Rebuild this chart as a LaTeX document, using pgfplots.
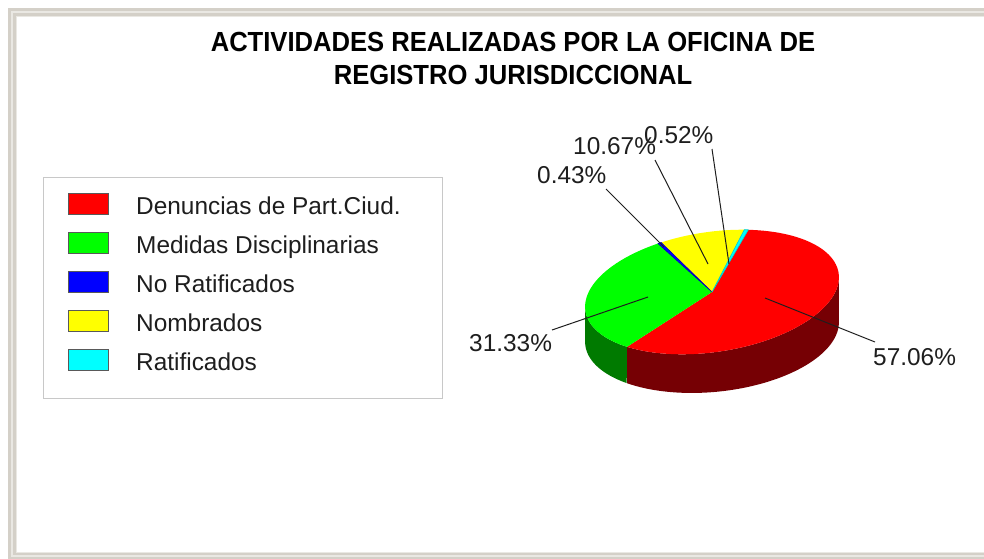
\documentclass[border=0pt]{standalone}
\usepackage{pgfplots}
\pgfplotsset{compat=1.18}
\usepackage{pgfplotstable}
\usepackage{fontspec}
\setmainfont{Liberation Sans}
\definecolor{framegray}{RGB}{212,208,200}
\definecolor{framelight}{RGB}{234,232,227}
\definecolor{sidegreen}{RGB}{0,122,0}
\definecolor{sidered}{RGB}{118,0,4}
\definecolor{txt}{RGB}{30,30,30}
\definecolor{legbox}{RGB}{200,200,200}
\definecolor{pRed}{RGB}{255,0,0}
\definecolor{pGreen}{RGB}{0,255,0}
\definecolor{pBlue}{RGB}{0,0,255}
\definecolor{pYellow}{RGB}{255,255,0}
\definecolor{pCyan}{RGB}{0,255,255}
\newcommand\lbl{\fontsize{24.4bp}{28bp}\selectfont}
\newcommand\ttl{\fontsize{25.6bp}{30bp}\selectfont\bfseries}
\begin{document}
\begin{tikzpicture}
\pgfplotstableread{
name value
Denuncias 57.06
Medidas 31.33
NoRatificados 0.43
Nombrados 10.67
Ratificados 0.52
}\piedata
\pgfplotstablegetelem{0}{value}\of\piedata \global\let\vA\pgfplotsretval
\pgfplotstablegetelem{1}{value}\of\piedata \global\let\vB\pgfplotsretval
\pgfplotstablegetelem{2}{value}\of\piedata \global\let\vC\pgfplotsretval
\pgfplotstablegetelem{3}{value}\of\piedata \global\let\vD\pgfplotsretval
\pgfplotstablegetelem{4}{value}\of\piedata \global\let\vE\pgfplotsretval
\pgfmathsetmacro\aS{69.4}\global\let\aS\aS
\pgfmathsetmacro\aR{\aS-3.6*\vA}\global\let\aR\aR
\pgfmathsetmacro\aG{\aR-3.6*\vB}\global\let\aG\aG
\pgfmathsetmacro\aB{\aG-3.6*\vC}\global\let\aB\aB
\pgfmathsetmacro\aY{\aB-3.6*\vD}\global\let\aY\aY
\pgfmathsetmacro\aC{\aY-3.6*\vE}\global\let\aC\aC
\begin{axis}[
  width=984bp, height=559bp, scale only axis,
  xmin=0, xmax=984, ymin=0, ymax=559, y dir=reverse,
  hide axis, clip=false,
  declare function={
    PX(\t)=712+128*cos(\t)*cos(8.5)-60*sin(\t)*sin(8.5);
    PY(\t)=292-(128*cos(\t)*sin(8.5)+60*sin(\t)*cos(8.5));
    W(\u,\p,\q)=ifthenelse(\u<=1,\p+\u*(\q-\p),\q-(\u-1)*(\q-\p));
    DD(\t)=40+5*cos(\t);
  },
]
% background and frame
\fill[white] (axis cs:0,0) rectangle (axis cs:984,559);
\fill[framegray] (axis cs:8,8) rectangle (axis cs:984,559);
\fill[framelight] (axis cs:11,11) rectangle (axis cs:984,557);
\fill[framegray] (axis cs:13,13) rectangle (axis cs:984,555);
\fill[framelight] (axis cs:16,16) rectangle (axis cs:984,553);
\fill[white] (axis cs:17,17) rectangle (axis cs:984,552);

% title
\node[anchor=base, font=\ttl, inner sep=0pt, yscale=1.08] at (axis cs:513,52) {ACTIVIDADES REALIZADAS POR LA OFICINA DE};
\node[anchor=base, font=\ttl, inner sep=0pt, yscale=1.08] at (axis cs:513,85) {REGISTRO JURISDICCIONAL};

% side walls
\addplot[fill=sidegreen, draw=none, domain=0:2, samples=401, variable=\s]
  ({PX(W(\s,-184,\aR))}, {PY(W(\s,-184,\aR))+DD(W(\s,-184,\aR))*(\s>1)});
\addplot[fill=sidered, draw=none, domain=0:2, samples=401, variable=\s]
  ({PX(W(\s,\aR,-4))}, {PY(W(\s,\aR,-4))+DD(W(\s,\aR,-4))*(\s>1)});

% top face slices
\addplot[fill=pRed, draw=none, domain=\aR:\aS, samples=150, variable=\t]
  ({PX(\t)},{PY(\t)}) -- (axis cs:712,292) -- cycle;
\addplot[fill=pGreen, draw=none, domain=\aG:\aR, samples=100, variable=\t]
  ({PX(\t)},{PY(\t)}) -- (axis cs:712,292) -- cycle;
\addplot[fill=pYellow, draw=none, domain=\aY:\aB, samples=40, variable=\t]
  ({PX(\t)},{PY(\t)}) -- (axis cs:712,292) -- cycle;
\addplot[fill=pBlue, draw=pBlue!70!black, line width=0.6bp, domain=\aB:\aG, samples=5, variable=\t]
  ({PX(\t)},{PY(\t)}) -- (axis cs:712,292) -- cycle;
\addplot[fill=pCyan, draw=pCyan!80!black, line width=0.6bp, domain=\aC:\aY, samples=5, variable=\t]
  ({PX(\t)},{PY(\t)}) -- (axis cs:712,292) -- cycle;

% leader lines
\addplot[draw=txt, line width=1bp] coordinates {(765,298) (875,342)};
\addplot[draw=txt, line width=1bp] coordinates {(648,297) (552,330)};
\addplot[draw=txt, line width=1bp] coordinates {(606,189) (664,247)};
\addplot[draw=txt, line width=1bp] coordinates {(655,160) (708,264)};
\addplot[draw=txt, line width=1bp] coordinates {(712,149) (729,264)};

% labels
\node[anchor=base west, inner sep=0pt, text=txt, font=\lbl] at (axis cs:873,365) {\vA\%};
\node[anchor=base west, inner sep=0pt, text=txt, font=\lbl] at (axis cs:469,351) {\vB\%};
\node[anchor=base west, inner sep=0pt, text=txt, font=\lbl] at (axis cs:537,183) {\vC\%};
\node[anchor=base west, inner sep=0pt, text=txt, font=\lbl] at (axis cs:573,154) {\vD\%};
\node[anchor=base west, inner sep=0pt, text=txt, font=\lbl] at (axis cs:644,143) {\vE\%};

% legend
\draw[draw=legbox, line width=1bp] (axis cs:43.5,177.5) rectangle (axis cs:442.5,398.5);
\draw[fill=pRed, draw=black!65, line width=0.8bp] (axis cs:68.5,193.5) rectangle (axis cs:108.5,214.5);
\draw[fill=pGreen, draw=black!65, line width=0.8bp] (axis cs:68.5,232.5) rectangle (axis cs:108.5,253.5);
\draw[fill=pBlue, draw=black!65, line width=0.8bp] (axis cs:68.5,271.5) rectangle (axis cs:108.5,292.5);
\draw[fill=pYellow, draw=black!65, line width=0.8bp] (axis cs:68.5,310.5) rectangle (axis cs:108.5,331.5);
\draw[fill=pCyan, draw=black!65, line width=0.8bp] (axis cs:68.5,349.5) rectangle (axis cs:108.5,370.5);
\node[anchor=base west, inner sep=0pt, text=txt, font=\lbl] at (axis cs:136,214) {Denuncias de Part.Ciud.};
\node[anchor=base west, inner sep=0pt, text=txt, font=\lbl] at (axis cs:136,253) {Medidas Disciplinarias};
\node[anchor=base west, inner sep=0pt, text=txt, font=\lbl] at (axis cs:136,292) {No Ratificados};
\node[anchor=base west, inner sep=0pt, text=txt, font=\lbl] at (axis cs:136,331) {Nombrados};
\node[anchor=base west, inner sep=0pt, text=txt, font=\lbl] at (axis cs:136,370) {Ratificados};
\end{axis}
\pgfresetboundingbox
\path (current axis.south west) rectangle (current axis.north east);
\end{tikzpicture}
\end{document}
